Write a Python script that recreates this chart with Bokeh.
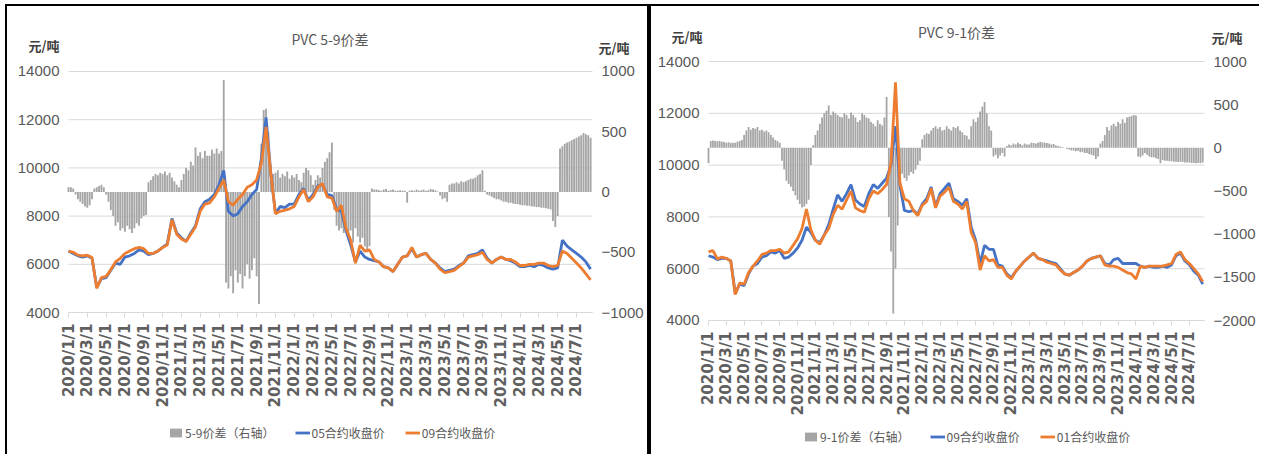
import numpy as np
from math import pi
from bokeh.plotting import figure
from bokeh.models import (Range1d, LinearAxis, FixedTicker, Legend, LegendItem, Label,
                          CustomJSTickFormatter, ColumnDataSource)
from bokeh.layouts import row
from bokeh.embed import file_html
from bokeh.resources import INLINE

# ---------------- data ----------------
tick_labels = ["2020/1/1", "2020/3/1", "2020/5/1", "2020/7/1", "2020/9/1", "2020/11/1",
               "2021/1/1", "2021/3/1", "2021/5/1", "2021/7/1", "2021/9/1", "2021/11/1",
               "2022/1/1", "2022/3/1", "2022/5/1", "2022/7/1", "2022/9/1", "2022/11/1",
               "2023/1/1", "2023/3/1", "2023/5/1", "2023/7/1", "2023/9/1", "2023/11/1",
               "2024/1/1", "2024/3/1", "2024/5/1", "2024/7/1"]
price_ticks = [4000, 6000, 8000, 10000, 12000, 14000]

# Chart 1: PVC 5-9 (semi-monthly closes)
close_05 = [
    6550, 6450, 6350, 6300, 6350, 6250, 5050, 5400, 5450, 5750, 6050, 6000,
    6300, 6350, 6450, 6600, 6550, 6400, 6450, 6550, 6700, 6850, 7900, 7300,
    7100, 6950, 7300, 7600, 8300, 8600, 8700, 8900, 9300, 9900, 8200, 8000,
    8100, 8400, 8600, 8900, 9100, 10400, 12100, 9800, 8100, 8400, 8350, 8500,
    8500, 8900, 9150, 8650, 8900, 9250, 9300, 8900, 8850, 8300, 8200, 7400,
    6800, 6100, 6550, 6300, 6200, 6150, 6100, 5900, 5850, 5700, 6000, 6300,
    6350, 6650, 6300, 6400, 6450, 6200, 6050, 5850, 5700, 5750, 5800, 5950,
    6050, 6350, 6400, 6450, 6600, 6250, 6050, 6200, 6300, 6200, 6150, 6050,
    5900, 5900, 5950, 5900, 6000, 5950, 5850, 5800, 5850, 7000, 6750, 6600,
    6450, 6300, 6100, 5800]
close_09a = [
    6550, 6500, 6380, 6350, 6380, 6280, 5000, 5450, 5500, 5780, 6100, 6250,
    6450, 6550, 6650, 6700, 6650, 6450, 6450, 6550, 6700, 6800, 7850, 7250,
    7050, 6950, 7250, 7550, 8200, 8500, 8550, 8800, 9150, 9500, 8600, 8450,
    8700, 8900, 9200, 9300, 9500, 10200, 11700, 9800, 8100, 8200, 8250, 8300,
    8400, 8800, 9100, 8600, 8800, 9200, 9350, 8800, 8750, 8200, 8450, 7500,
    7000, 6050, 6800, 6550, 6600, 6200, 6100, 5900, 5850, 5700, 6000, 6300,
    6350, 6700, 6300, 6400, 6450, 6200, 6050, 5800, 5650, 5700, 5750, 5900,
    6050, 6300, 6350, 6400, 6500, 6200, 6050, 6200, 6300, 6200, 6200, 6100,
    5950, 5950, 6000, 6000, 6050, 6050, 5950, 5900, 5950, 6550, 6450, 6250,
    6050, 5850, 5600, 5350]
# weekly 5-9 spread (right axis)
spread_59 = [
    40, 40, 30, -20, -60, -80, -100, -120, -130, -110, -60, 30,
    40, 50, 60, 40, -20, -80, -150, -200, -280, -250, -320, -300,
    -330, -280, -310, -340, -300, -260, -280, -220, -200, -190, 80, 100,
    130, 150, 140, 160, 150, 170, 140, 160, 120, 90, 60, 40,
    100, 150, 200, 180, 250, 220, 370, 300, 330, 280, 340, 300,
    300, 350, 320, 360, 320, 340, 930, -750, -800, -700, -840, -650,
    -750, -680, -800, -700, -600, -720, -650, -550, -700, -930, 400, 680,
    690, 500, 200, 150, 160, 180, 120, 150, 130, 170, 110, 140,
    120, 150, 100, 80, 160, 200, 180, 140, 60, 100, 140, 120,
    200, 250, 280, 330, 410, -150, -280, -320, -300, -340, -290, -380,
    -320, -420, -300, -370, -420, -380, -450, -500, -450, 30, 20, 20,
    15, 10, 20, 25, 10, 15, 20, 10, 10, 15, 10, 10,
    -90, 10, 15, 10, 20, 10, 15, 20, 10, 15, 25, 20,
    15, 5, -30, -60, -50, -80, 60, 70, 70, 80, 70, 90,
    80, 90, 100, 110, 110, 120, 140, 150, 180, 10, -20, -30,
    -40, -50, -60, -60, -70, -80, -80, -90, -90, -95, -100, -100,
    -105, -110, -110, -115, -115, -120, -120, -125, -125, -130, -130, -135,
    -140, -145, -240, -290, -200, 360, 380, 400, 410, 420, 430, 440,
    450, 460, 470, 490, 480, 470, 450]

# Chart 2: PVC 9-1 (semi-monthly closes)
close_09b = [
    6500, 6450, 6350, 6400, 6400, 6300, 5050, 5400, 5350, 5800, 6100, 6200,
    6450, 6500, 6650, 6600, 6700, 6400, 6450, 6600, 6800, 7100, 7600, 7400,
    7100, 7000, 7300, 7700, 8300, 8850, 8600, 8900, 9250, 8650, 8500, 8400,
    8900, 9250, 9100, 9300, 9500, 10000, 11500, 9200, 8250, 8200, 8250, 8100,
    8500, 8700, 9150, 8400, 8900, 9100, 9300, 8700, 8600, 8450, 8700, 7600,
    7100, 6200, 6900, 6750, 6750, 6150, 6100, 5800, 5650, 5900, 6100, 6300,
    6450, 6600, 6400, 6350, 6300, 6250, 6200, 6000, 5800, 5750, 5850, 5950,
    6100, 6300, 6400, 6450, 6500, 6200, 6150, 6350, 6400, 6200, 6200, 6200,
    6200, 6100, 6050, 6100, 6050, 6050, 6100, 6050, 6150, 6500, 6600, 6300,
    6150, 5900, 5750, 5400]
close_01 = [
    6650, 6700, 6380, 6450, 6400, 6300, 5000, 5450, 5400, 5850, 6100, 6300,
    6550, 6600, 6700, 6700, 6750, 6600, 6650, 6900, 7150, 7550, 8300, 7500,
    7100, 6950, 7300, 7550, 8100, 8450, 8300, 8650, 9000, 8350, 8250, 8180,
    8700, 9000, 8900, 9050, 9250, 10100, 13200, 9300, 8700, 8600, 8250, 8050,
    8450, 8600, 9100, 8350, 8800, 8950, 9150, 8600, 8500, 8300, 8600, 7400,
    7000, 5950, 6500, 6300, 6350, 6050, 6050, 5750, 5600, 5900, 6100, 6300,
    6450, 6600, 6400, 6350, 6250, 6200, 6150, 5950, 5800, 5750, 5850, 5950,
    6100, 6300, 6400, 6450, 6500, 6150, 6100, 6100, 6050, 5950, 5850, 5800,
    5600, 6100, 6050, 6100, 6100, 6100, 6100, 6150, 6200, 6550, 6650, 6350,
    6200, 6000, 5800, 5500]
# weekly 9-1 spread (right axis)
spread_91 = [
    -180, 80, 85, 80, 75, 80, 70, 70, 60, 65, 55, 60,
    60, 70, 80, 90, 150, 200, 240, 210, 230, 220, 240, 200,
    210, 190, 200, 180, 150, 120, 90, 80, 60, -150, -250, -380,
    -420, -450, -500, -550, -600, -650, -690, -680, -650, -600, -200, 30,
    150, 200, 280, 350, 400, 430, 490, 380, 420, 400, 380, 360,
    350, 400, 380, 340, 410, 380, 350, 300, 320, 400, 380, 350,
    340, 300, 280, 250, 320, 280, 260, 350, 590, -800, -1200, -1920,
    -1400, -900, -380, -300, -350, -380, -320, -280, -300, -250, -200, -150,
    100, 150, 170, 160, 200, 230, 250, 220, 240, 200, 210, 250,
    220, 200, 240, 230, 250, 200, 180, 150, 140, 100, 250, 330,
    300, 350, 420, 480, 530, 400, 250, 200, -100, -80, -120, -90,
    -60, -100, 20, 40, 30, 50, 40, 60, 45, 30, 50, 40,
    40, 60, 55, 50, 60, 70, 65, 60, 55, 50, 40, 45,
    30, 20, 15, 10, 0, -10, -20, -30, -30, -40, -35, -50,
    -45, -60, -60, -70, -80, -90, -130, -100, 50, 80, 150, 240,
    200, 260, 280, 250, 300, 280, 330, 290, 350, 360, 370, 380,
    375, -100, -110, -90, -60, -80, -100, -110, -110, -120, -130, -180,
    -140, -150, -150, -155, -155, -160, -160, -165, -160, -165, -170, -170,
    -170, -175, -175, -180, -175, -180, -170]

# ---------------- styling ----------------
NUM_FONT = "Liberation Sans Narrow, Liberation Sans"
CJK_FONT = "Noto Sans CJK SC"
GRAY_TXT = "#595959"
GRID = "#d9d9d9"
BAR = "#a5a5a5"
BLUE = "#4472c4"
ORANGE = "#ed7d31"
X_END = 55.7


def make_chart(title, names, price_a, price_b, spread, y2_ticks,
               width, height, x_rng, y_rng, y2_rng,
               title_xy, unit_l, unit_r, legend_xy, styles):
    p = figure(width=width, height=height, output_backend="svg", toolbar_location=None,
               title=None, x_range=Range1d(*x_rng), y_range=Range1d(*y_rng),
               min_border=0, min_border_left=0, min_border_right=0,
               min_border_top=0, min_border_bottom=0)
    p.styles = styles
    p.outline_line_color = None
    p.background_fill_color = "white"
    p.border_fill_color = "white"
    p.extra_y_ranges = {"spread": Range1d(*y2_rng)}
    p.xgrid.visible = False
    p.ygrid.visible = False

    # horizontal gridlines over the plot area only
    gsrc = ColumnDataSource(dict(y=price_ticks, x0=[0] * len(price_ticks),
                                 x1=[X_END] * len(price_ticks)))
    p.segment(x0="x0", x1="x1", y0="y", y1="y", source=gsrc,
              line_color=GRID, line_width=1)

    xp = np.arange(len(price_a)) * 0.5
    xs = np.arange(len(spread)) * 0.25
    src_bar = ColumnDataSource(dict(x=xs, s=spread))
    src_line = ColumnDataSource(dict(x=xp, a=price_a, b=price_b))

    bars = p.vbar(x="x", top="s", bottom=0, width=0.2, source=src_bar,
                  y_range_name="spread", fill_color=BAR, line_color=None)
    la = p.line("x", "a", source=src_line, line_width=2.8, line_color=BLUE)
    lb = p.line("x", "b", source=src_line, line_width=2.8, line_color=ORANGE)

    # axes fixed at the edges of the plot area
    yl = p.left[0]
    yl.fixed_location = 0
    yl.ticker = FixedTicker(ticks=price_ticks)
    yr = LinearAxis(y_range_name="spread", ticker=FixedTicker(ticks=y2_ticks),
                    fixed_location=X_END)
    p.add_layout(yr, "right")
    for ax in (yl, yr):
        ax.axis_line_color = None
        ax.major_tick_line_color = None
        ax.minor_tick_line_color = None
        ax.major_tick_out = 0
        ax.major_tick_in = 0
        ax.major_label_standoff = 9
        ax.major_label_text_font = NUM_FONT
        ax.major_label_text_font_size = "15px"
        ax.major_label_text_color = GRAY_TXT

    xa = p.xaxis[0]
    xa.fixed_location = 4000
    xa.bounds = (0, X_END)
    xa.ticker = FixedTicker(ticks=list(range(0, 55, 2)))
    xa.formatter = CustomJSTickFormatter(args=dict(labels=tick_labels), code="""
        const i = Math.round(tick / 2);
        return (i >= 0 && i < labels.length) ? labels[i] : "";
    """)
    xa.major_label_orientation = pi / 2
    xa.axis_line_color = GRID
    xa.major_tick_line_color = GRID
    xa.major_tick_out = 5
    xa.major_tick_in = 0
    xa.minor_tick_line_color = None
    xa.major_label_standoff = 6
    xa.major_label_text_font = "DejaVu Sans"
    xa.major_label_text_font_style = "bold"
    xa.major_label_text_font_size = "15px"
    xa.major_label_text_color = "#606060"

    p.add_layout(Label(x=title_xy[0], y=title_xy[1], x_units="screen", y_units="screen",
                       text=title, text_font=CJK_FONT, text_font_size="14px",
                       text_color=GRAY_TXT, text_align="center", text_baseline="middle"))
    for (ux, uy) in (unit_l, unit_r):
        p.add_layout(Label(x=ux, y=uy, x_units="screen", y_units="screen",
                           text="元/吨", text_font=CJK_FONT, text_font_size="13px",
                           text_font_style="bold", text_color="#404040",
                           text_align="left", text_baseline="middle"))

    legend = Legend(items=[LegendItem(label=names[0], renderers=[bars]),
                           LegendItem(label=names[1], renderers=[la]),
                           LegendItem(label=names[2], renderers=[lb])],
                    orientation="horizontal", location=legend_xy,
                    glyph_width=15, glyph_height=11, label_height=12,
                    label_standoff=2, spacing=20, padding=0, margin=0,
                    border_line_alpha=0, background_fill_alpha=0,
                    label_text_font=CJK_FONT, label_text_font_size="12px",
                    label_text_color=GRAY_TXT)
    p.add_layout(legend)
    return p


p1 = make_chart("PVC 5-9价差", ["5-9价差（右轴）", "05合约收盘价", "09合约收盘价"],
                close_05, close_09a, spread_59, [-1000, -500, 0, 500, 1000],
                width=644, height=450,
                x_rng=(-6.485, 61.975), y_rng=(-1975, 16697), y2_rng=(-2195, 1539.4),
                title_xy=(322.5, 418), unit_l=(21, 411), unit_r=(591, 409),
                legend_xy=(161, 15),
                styles={"border-left": "2px solid #000", "border-top": "2px solid #000",
                        "border-right": "2px solid #000",
                        "margin-left": "5px", "margin-top": "4px"})

p2 = make_chart("PVC 9-1价差", ["9-1价差（右轴）", "09合约收盘价", "01合约收盘价"],
                close_09b, close_01, spread_91, [-2000, -1500, -1000, -500, 0, 500, 1000],
                width=610, height=450,
                x_rng=(-6.401, 62.10), y_rng=(-1251, 16123.6), y2_rng=(-3575.3, 1637.1),
                title_xy=(305, 425), unit_l=(20, 420), unit_r=(560, 419),
                legend_xy=(152, 11),
                styles={"border-left": "2px solid #000", "border-top": "2px solid #000",
                        "margin-top": "4px"})

layout = row(p1, p2, spacing=0)
open("out.html", "w").write(file_html(layout, INLINE))
